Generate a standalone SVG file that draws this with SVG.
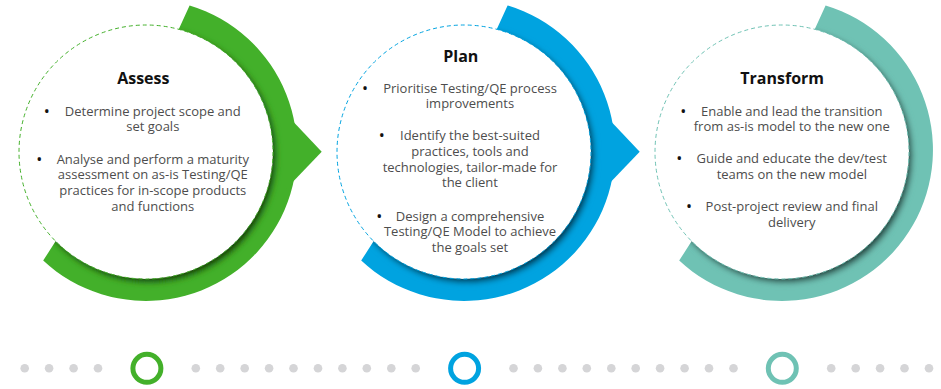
<svg xmlns="http://www.w3.org/2000/svg" xmlns:xlink="http://www.w3.org/1999/xlink" width="941" height="389" viewBox="0 0 941 389">
  <style>
    .title { font-family: "Open Sans", "Liberation Sans", sans-serif; font-size: 16px; font-weight: bold; fill: #111; text-anchor: middle; }
    .body { font-family: "Open Sans", "Liberation Sans", sans-serif; font-size: 13px; fill: #4d4d4d; text-anchor: middle; }
    .bullet { font-family: "Open Sans", "Liberation Sans", sans-serif; font-size: 16px; fill: #111; text-anchor: middle; }
    .shadow { fill: #000; fill-opacity: 0.8; }
    .face { fill: #fff; stroke-width: 1; stroke-dasharray: 4 3; }
    .green { fill: #43B02A; stroke: #43B02A; }
    .blue { fill: #00A3E0; stroke: #00A3E0; }
    .teal { fill: #6FC2B4; stroke: #6FC2B4; }
    .band { stroke: none; }
    .dot { fill: #D5D5D7; }
    .ring { fill: none; stroke-width: 5; }
  </style>
  <defs>
    <path id="bandShape" d="M189.6 5.4 A151 151 0 1 1 43.2 260.6 L58 237.4 A124 124 0 1 0 178.3 30.3 Z"/>
    <polygon id="arrowShape" points="286,114 321.7,151.7 286,189"/>
    <clipPath id="bandClip">
      <use xlink:href="#bandShape"/>
    </clipPath>
    <filter id="soft" x="-20%" y="-20%" width="140%" height="140%">
      <feGaussianBlur stdDeviation="3"/>
    </filter>
  </defs>

  <g id="assess">
    <g class="green">
      <use xlink:href="#bandShape" class="band"/>
      <use xlink:href="#arrowShape" class="band"/>
      <g clip-path="url(#bandClip)">
        <circle cx="149" cy="155.5" r="127" class="shadow" filter="url(#soft)"/>
      </g>
      <circle cx="146" cy="152" r="127" class="face"/>
    </g>
    <text class="title" x="143.3" y="83.5">Assess</text>
    <text class="bullet" x="46.7" y="116.5">•</text>
    <text class="body" x="152.8" y="115.5">Determine project scope and<tspan x="152.8" dy="15.7">set goals</tspan></text>
    <text class="bullet" x="39.3" y="164.5">•</text>
    <text class="body" x="152.8" y="163.5">Analyse and perform a maturity<tspan x="152.8" dy="15.7">assessment on as-is Testing/QE</tspan><tspan x="152.8" dy="15.7">practices for in-scope products</tspan><tspan x="152.8" dy="15.7">and functions</tspan></text>
  </g>

  <g id="plan">
    <g class="blue" transform="translate(318,0)">
      <use xlink:href="#bandShape" class="band"/>
      <use xlink:href="#arrowShape" class="band"/>
      <g clip-path="url(#bandClip)">
        <circle cx="149" cy="155.5" r="127" class="shadow" filter="url(#soft)"/>
      </g>
      <circle cx="146" cy="152" r="127" class="face"/>
    </g>
    <text class="title" x="460.8" y="61.5">Plan</text>
    <text class="bullet" x="365" y="93.5">•</text>
    <text class="body" x="470" y="92.5">Prioritise Testing/QE process<tspan x="470" dy="15.7">improvements</tspan></text>
    <text class="bullet" x="381.7" y="141">•</text>
    <text class="body" x="470" y="140">Identify the best-suited<tspan x="470" dy="15.7">practices, tools and</tspan><tspan x="470" dy="15.8">technologies, tailor-made for</tspan><tspan x="470" dy="15.7">the client</tspan></text>
    <text class="bullet" x="379.3" y="221.5">•</text>
    <text class="body" x="470" y="220.5">Design a comprehensive<tspan x="470" dy="15.8">Testing/QE Model to achieve</tspan><tspan x="470" dy="15.7">the goals set</tspan></text>
  </g>

  <g id="transform">
    <g class="teal" transform="translate(636,0)">
      <use xlink:href="#bandShape" class="band"/>
      <g clip-path="url(#bandClip)">
        <circle cx="149" cy="155.5" r="127" class="shadow" filter="url(#soft)"/>
      </g>
      <circle cx="146" cy="152" r="127" class="face"/>
    </g>
    <text class="title" x="782.2" y="83.5">Transform</text>
    <text class="bullet" x="683.3" y="116.5">•</text>
    <text class="body" x="791.8" y="115.5">Enable and lead the transition<tspan x="791.8" dy="15.7">from as-is model to the new one</tspan></text>
    <text class="bullet" x="679.3" y="164.2">•</text>
    <text class="body" x="791.8" y="163.2">Guide and educate the dev/test<tspan x="791.8" dy="15.8">teams on the new model</tspan></text>
    <text class="bullet" x="689" y="212">•</text>
    <text class="body" x="791.8" y="211">Post-project review and final<tspan x="791.8" dy="15.7">delivery</tspan></text>
  </g>

  <g id="timeline">
    <g class="dot">
      <circle cx="24.7" cy="368.3" r="4.3"/>
      <circle cx="49.1" cy="368.3" r="4.3"/>
      <circle cx="73.6" cy="368.3" r="4.3"/>
      <circle cx="98" cy="368.3" r="4.3"/>
      <circle cx="195.8" cy="368.3" r="4.3"/>
      <circle cx="220.2" cy="368.3" r="4.3"/>
      <circle cx="244.7" cy="368.3" r="4.3"/>
      <circle cx="269.1" cy="368.3" r="4.3"/>
      <circle cx="293.5" cy="368.3" r="4.3"/>
      <circle cx="318" cy="368.3" r="4.3"/>
      <circle cx="342.4" cy="368.3" r="4.3"/>
      <circle cx="366.8" cy="368.3" r="4.3"/>
      <circle cx="391.3" cy="368.3" r="4.3"/>
      <circle cx="415.7" cy="368.3" r="4.3"/>
      <circle cx="513.5" cy="368.3" r="4.3"/>
      <circle cx="537.9" cy="368.3" r="4.3"/>
      <circle cx="562.4" cy="368.3" r="4.3"/>
      <circle cx="586.8" cy="368.3" r="4.3"/>
      <circle cx="611.3" cy="368.3" r="4.3"/>
      <circle cx="635.7" cy="368.3" r="4.3"/>
      <circle cx="660.1" cy="368.3" r="4.3"/>
      <circle cx="684.6" cy="368.3" r="4.3"/>
      <circle cx="709" cy="368.3" r="4.3"/>
      <circle cx="733.5" cy="368.3" r="4.3"/>
      <circle cx="831.2" cy="368.3" r="4.3"/>
      <circle cx="855.7" cy="368.3" r="4.3"/>
      <circle cx="880.1" cy="368.3" r="4.3"/>
      <circle cx="904.5" cy="368.3" r="4.3"/>
      <circle cx="929" cy="368.3" r="4.3"/>
    </g>
    <circle class="ring" cx="146.9" cy="368.3" r="14" stroke="#43B02A"/>
    <circle class="ring" cx="464.6" cy="368.3" r="14" stroke="#00A3E0"/>
    <circle class="ring" cx="782.3" cy="368.3" r="14" stroke="#6FC2B4"/>
  </g>
</svg>
